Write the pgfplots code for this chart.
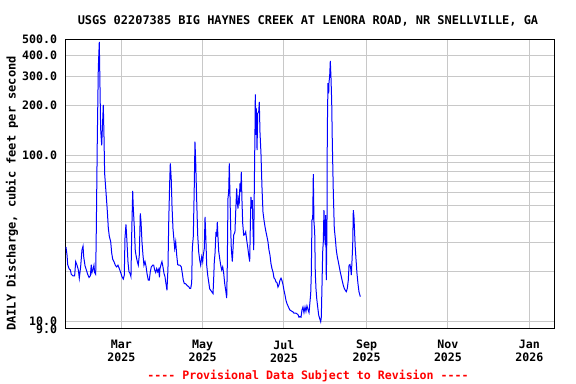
\documentclass[border=0pt]{standalone}
\usepackage{pgfplots}
\pgfplotsset{compat=1.18}
\usepackage{pgfplotstable}
\usepackage{fontspec}
\setmonofont{DejaVu Sans Mono}
\renewcommand{\familydefault}{\ttdefault}
\definecolor{gridgray}{RGB}{200,200,200}
\definecolor{flowblue}{RGB}{0,0,255}
\pgfplotstableread{
d v
17.5 28.1
18.3 25.1
18.8 22.0
19.8 20.8
20.8 20.4
21.5 19.2
22.8 18.8
24.0 18.8
24.8 22.9
25.8 21.8
26.8 20.4
27.5 18.2
28.5 21.3
29.5 26.9
30.3 28.4
30.8 24.5
31.8 21.6
32.8 20.4
33.8 19.2
34.8 18.4
35.75 18.8
36.5 22.0
37.0 19.7
37.8 20.6
38.5 21.8
39.0 19.7
39.8 19.2
40.25 35.5
41.0 125
41.75 334
42.5 483
43.0 265
43.5 145
44.3 115
44.75 142
45.5 201
46.0 133
46.5 77.9
47.5 60.4
48.5 46.4
49.25 36.6
50.0 32.6
51.05 30.2
51.8 25.8
52.55 23.7
53.5 22.9
54.5 21.8
55.5 21.3
56.5 21.8
57.5 20.8
58.55 19.7
59.5 18.6
60.5 18.0
61.25 19.0
61.75 31.6
62.5 38.4
63.25 30.2
64.0 22.9
64.75 19.9
65.5 19.5
66.25 18.6
66.8 33.4
67.55 61
68.0 48
68.75 37.1
69.5 26.5
70.25 24.5
71.0 22.9
71.75 21.8
72.5 25.1
73.25 44.7
73.8 39.8
74.5 30.2
75.25 25.1
76.0 21.8
76.8 22.9
77.5 21.6
78.25 19.5
79.25 17.7
80.0 17.7
80.75 19.9
81.5 21.3
82.55 21.8
83.3 21.8
84.05 20.4
84.8 19.7
85.55 20.8
86.3 19.9
87.05 20.6
87.6 18.4
88.0 20.8
88.8 22.0
89.5 22.9
90.25 21.3
91.0 19.5
91.75 18.6
92.5 16.9
93.25 15.4
94.0 20.8
94.55 38.9
95.3 69.3
95.75 89.5
96.5 70.9
97.0 50.2
97.75 36.3
98.5 30.9
99.05 27.5
99.8 30.2
100.55 25.1
101.3 22.0
102.05 21.8
103.0 21.8
104.0 21.3
104.75 19.5
105.5 17.7
106.25 16.9
107.0 16.9
107.75 16.7
108.5 16.4
109.55 16.2
110.3 15.8
111.05 15.8
111.8 17.1
112.25 27.5
113.0 32.4
113.75 66.2
114.25 120.8
114.8 91.5
115.55 53.8
116.3 33.1
117.05 26.2
117.8 23.4
118.55 21.8
119.3 24.5
120.05 22.9
120.5 25.1
121.25 27.5
121.8 42.6
122.3 33.5
123.05 21.8
123.8 19.0
124.55 17.3
125.3 15.7
126.8 15.1
127.8 14.7
128.3 18.2
128.75 22.9
129.3 25.7
130.0 34.6
130.55 32.4
131.0 39.8
131.5 32.4
132.05 26.5
132.8 23.9
133.55 21.8
134.3 20.4
135.05 21.3
135.8 19.5
136.55 16.9
137.3 15.4
138.05 13.8
138.5 21.8
139.0 55
139.55 60.4
140.0 89.5
140.5 57.6
141.05 36.3
141.5 27.5
142.25 22.9
142.8 27.5
143.3 33.1
143.75 33.8
144.25 34.6
144.8 45.7
145.55 63.3
146.0 52.6
146.5 47.8
147.05 55
147.5 52.6
148.0 67.8
148.55 60.4
149.0 79.6
149.5 53.8
150.05 38.9
150.8 33.1
151.55 33.3
152.3 34.6
153.05 30.9
153.8 28.1
154.55 25.1
155.3 22.9
155.75 36.6
156.25 56.3
156.8 47.8
157.25 53.8
157.75 36.3
158.3 26.9
158.75 63
159.3 150
159.5 233
160.0 133
160.25 192
160.8 107.6
161.3 179
162.05 183
162.5 210
163.0 138.5
163.75 102.8
164.5 64.6
165.25 45.7
166.0 40.8
166.8 37.1
167.5 34.6
168.25 32.4
169.0 30.2
169.75 26.9
170.5 25.1
171.25 22.3
172.0 20.8
172.8 19.8
173.5 18.3
174.25 18.0
175.0 17.3
175.8 17.1
176.5 16.1
177.25 16.6
178.0 17.7
178.8 18.2
179.5 17.6
180.25 16.7
181.0 15.4
181.8 14.4
182.5 13.4
183.25 12.8
184.0 12.4
184.8 12.0
185.5 11.7
186.25 11.6
187.0 11.5
187.8 11.4
188.5 11.2
189.25 11.2
190.0 11.2
190.8 11.1
191.5 11.0
192.25 10.6
193.0 10.7
193.8 10.6
194.5 11.7
195.25 12.2
196.0 11.3
196.8 12.2
197.5 11.5
198.25 12.4
199.0 11.8
199.8 11.3
200.5 13.1
201.05 14.7
201.5 19.2
202.0 40.8
202.55 41.5
203.0 77
203.5 39.8
204.05 34.6
204.5 19.5
205.0 15.8
205.55 13.8
206.3 12.2
207.05 10.9
207.8 10.4
208.55 9.95
209.0 10.6
209.5 16.1
210.05 26.3
210.5 30.2
211.0 46.8
211.55 33.1
212.0 28.8
212.3 43.7
212.75 17.7
213.25 36.3
213.5 138.5
214.0 272
214.55 236
214.75 272
215.3 303
215.75 370
216.25 297
216.8 210
217.25 121
218.0 60.4
218.75 36.3
219.5 31.6
220.25 26.9
221.0 24.5
221.75 22.9
222.5 21.3
223.25 19.8
224.0 18.6
224.75 17.5
225.5 16.5
226.25 15.8
227.0 15.4
227.75 15.1
228.5 15.8
229.25 17.7
229.8 21.8
230.5 22.0
231.05 20.8
231.5 19.0
232.0 22.9
232.55 28.8
233.0 46.8
233.5 42.6
234.05 33.1
234.5 27.5
235.0 23.9
235.75 19.5
236.5 16.9
237.25 15.1
238.25 14.1
}\flowdata
\begin{document}
\begin{tikzpicture}
\path[use as bounding box] (-65.3bp,-55bp) rectangle (510.7bp,329bp);
\begin{axis}[
  scale only axis,
  width=489bp, height=289.7bp,
  at={(0,0)}, anchor=south west,
  ymode=log,
  xmin=17, xmax=383.75,
  ymin=9, ymax=500,
  axis line style={black, line width=1bp},
  xtick={59,120,181,243,304,365},
  xticklabels={Mar\\2025,May\\2025,Jul\\2025,Sep\\2025,Nov\\2025,Jan\\2026},
  ytick={10,100,200,300,400},
  yticklabels={10.0,100.0,200.0,300.0,400.0},
  extra y ticks={9,500},
  extra y tick labels={9.0,500.0},
  extra y tick style={grid=none},
  minor ytick={20,30,40,50,60,70,80,90},
  grid=both,
  major grid style={gridgray, line width=1bp},
  minor grid style={gridgray, line width=1bp},
  major tick length=0pt, minor tick length=0pt,
  tick label style={font=\fontsize{11.6bp}{13bp}\selectfont\ttfamily\bfseries},
  yticklabel style={anchor=east, inner sep=0pt, xshift=-8bp},
  xticklabel style={anchor=north, align=center, inner sep=0pt, yshift=-11bp},
  ylabel={DAILY Discharge, cubic feet per second},
  every axis y label/.style={at={(axis description cs:-0.109,0.468)}, anchor=center, rotate=90, font=\fontsize{12bp}{13bp}\selectfont\ttfamily\bfseries},
  clip=true,
]
\addplot[flowblue, line width=1bp, line join=miter] table[x=d, y=v] {\flowdata};
\end{axis}
\node[font=\fontsize{11.95bp}{13bp}\selectfont\ttfamily\bfseries] at (242.7bp,308.5bp) {USGS 02207385 BIG HAYNES CREEK AT LENORA ROAD, NR SNELLVILLE, GA};
\node[font=\fontsize{11.6bp}{13bp}\selectfont\ttfamily\bfseries, text=red] at (242.7bp,-47bp) {---- Provisional Data Subject to Revision ----};
\end{tikzpicture}
\end{document}
